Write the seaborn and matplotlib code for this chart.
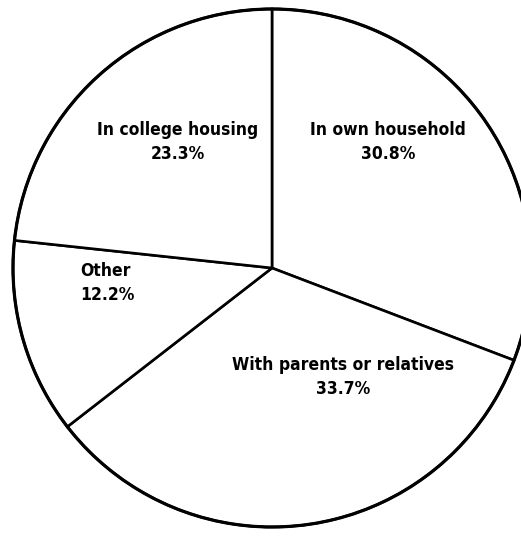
import matplotlib
matplotlib.use("Agg")
import matplotlib.pyplot as plt
import seaborn as sns
from matplotlib.patches import Circle

# Living arrangements of students (percent)
categories = ["In own household", "With parents or relatives", "Other", "In college housing"]
shares = [30.8, 33.7, 12.2, 23.3]
share_labels = ["30.8%", "33.7%", "12.2%", "23.3%"]

sns.set_theme(style="white")
plt.rcParams["font.family"] = ["DejaVu Sans"]

W, H = 521, 537
fig = plt.figure(figsize=(W / 100, H / 100), dpi=100)
ax = fig.add_axes([0, 0, 1, 1])

# pie centre and radius in pixels
cx, cy, r = 272, 268, 259

ax.pie(
    shares,
    startangle=90,
    counterclock=False,
    colors=["white"] * len(shares),
    wedgeprops=dict(edgecolor="black", linewidth=1.9),
    radius=1.0,
)
ax.add_patch(Circle((0, 0), 1.0, fill=False, edgecolor="black", linewidth=2.3))

ax.set_xlim(-cx / r, (W - cx) / r)
ax.set_ylim(-(H - cy) / r, cy / r)
ax.set_aspect("auto")
ax.axis("off")

# label anchor points in pixels (x of the block centre / left edge, y of its top)
label_pos = {
    "In own household": (388, 121, "center"),
    "With parents or relatives": (343, 356, "center"),
    "Other": (80, 262, "left"),
    "In college housing": (178, 121, "center"),
}

for cat, lab in zip(categories, share_labels):
    px, py, ha = label_pos[cat]
    ax.text(
        px / W, 1 - py / H, f"{cat}\n{lab}",
        transform=ax.transAxes, ha=ha, va="top",
        multialignment=ha, fontsize=12.5, fontweight="bold",
        fontstretch="condensed", color="black", linespacing=1.45,
    )

fig.savefig("out.png", dpi=100, facecolor="white")
